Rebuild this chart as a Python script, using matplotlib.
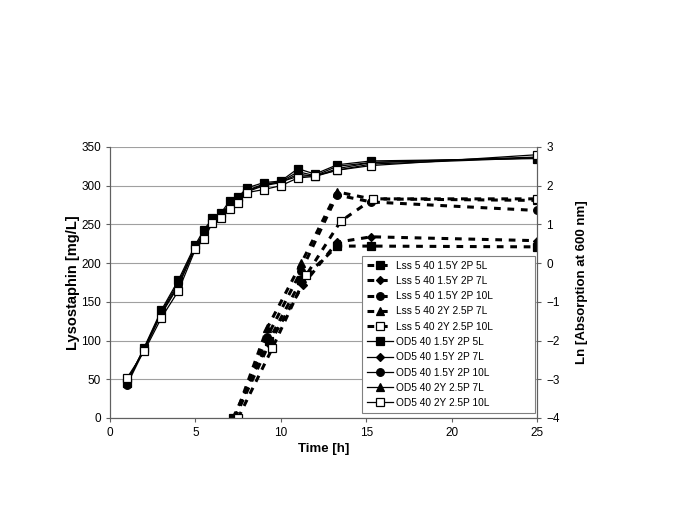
import matplotlib
matplotlib.use("Agg")
import matplotlib.pyplot as plt

plt.rcParams["font.family"] = ["Liberation Sans", "DejaVu Sans"]

# ---------------------------------------------------------------------------
# Data: lysostaphin titer (left axis, mg/L)
# ---------------------------------------------------------------------------

lss_names = [
    "Lss 5 40 1.5Y 2P 5L",
    "Lss 5 40 1.5Y 2P 7L",
    "Lss 5 40 1.5Y 2P 10L",
    "Lss 5 40 2Y 2.5P 7L",
    "Lss 5 40 2Y 2.5P 10L",
]
lss_t_5l    = [7.2, 9.3, 11.2, 13.3, 15.3, 25]
lss_5l      = [0, 100, 178, 222, 222, 221]
lss_t_7l    = [7.3, 9.3, 11.3, 13.3, 15.3, 25]
lss_7l      = [0, 95, 172, 227, 234, 229]
lss_t_10l   = [7.3, 9.2, 11.2, 13.3, 15.3, 25]
lss_10l     = [0, 105, 190, 288, 279, 268]
lss_t_2y7l  = [7.3, 9.2, 11.2, 13.3, 15.3, 25]
lss_2y7l    = [0, 116, 200, 292, 283, 281]
lss_t_2y10l = [7.5, 9.5, 11.5, 13.5, 15.4, 25]
lss_2y10l   = [0, 90, 185, 254, 283, 283]

# ---------------------------------------------------------------------------
# Data: ln(OD600) (right axis)
# ---------------------------------------------------------------------------

od_names = [
    "OD5 40 1.5Y 2P 5L",
    "OD5 40 1.5Y 2P 7L",
    "OD5 40 1.5Y 2P 10L",
    "OD5 40 2Y 2.5P 7L",
    "OD5 40 2Y 2.5P 10L",
]
od_t = [1, 2, 3, 4, 5, 5.5, 6, 6.5, 7, 7.5, 8, 9, 10, 11, 12, 13.3, 15.3, 25]
od_5l    = [-3.10, -2.18, -1.22, -0.44, 0.48, 0.86, 1.16, 1.30, 1.60, 1.70,
            1.94, 2.08, 2.12, 2.44, 2.30, 2.54, 2.64, 2.70]
od_7l    = [-3.06, -2.20, -1.26, -0.50, 0.44, 0.76, 1.10, 1.24, 1.50, 1.64,
            1.88, 2.04, 2.10, 2.36, 2.26, 2.50, 2.60, 2.72]
od_10l   = [-3.14, -2.24, -1.30, -0.56, 0.40, 0.72, 1.04, 1.20, 1.44, 1.60,
            1.84, 2.00, 2.08, 2.30, 2.24, 2.44, 2.60, 2.74]
od_2y7l  = [-3.04, -2.22, -1.32, -0.60, 0.42, 0.80, 1.12, 1.26, 1.52, 1.64,
            1.86, 2.02, 2.10, 2.24, 2.26, 2.40, 2.56, 2.72]
od_2y10l = [-2.96, -2.28, -1.42, -0.72, 0.36, 0.62, 1.04, 1.16, 1.40, 1.56,
            1.82, 1.90, 2.00, 2.20, 2.24, 2.40, 2.52, 2.80]

markers = ["s", "D", "o", "^", "s"]
msizes  = [5.5, 4.2, 5.5, 5.5, 5.5]
faces   = ["black", "black", "black", "black", "white"]

# ---------------------------------------------------------------------------
# Chart
# ---------------------------------------------------------------------------

fig = plt.figure(figsize=(6.85, 5.13), dpi=100)
ax1 = fig.add_axes([0.1606, 0.1852, 0.6234, 0.5283])
ax2 = ax1.twinx()

lss_t = [lss_t_5l, lss_t_7l, lss_t_10l, lss_t_2y7l, lss_t_2y10l]
lss_v = [lss_5l, lss_7l, lss_10l, lss_2y7l, lss_2y10l]
od_v  = [od_5l, od_7l, od_10l, od_2y7l, od_2y10l]

handles = []
for t, v, m, ms, fc, name in zip(lss_t, lss_v, markers, msizes, faces, lss_names):
    h, = ax1.plot(t, v, linestyle=(0, (2.2, 2.2)), lw=2.2, color="black",
                  marker=m, markersize=ms,
                  markerfacecolor=fc, markeredgecolor="black",
                  markeredgewidth=0.9, label=name)
    handles.append(h)

for v, m, ms, fc, name in zip(od_v, markers, msizes, faces, od_names):
    h, = ax2.plot(od_t, v, linestyle="-", lw=0.9, color="black",
                  marker=m, markersize=ms,
                  markerfacecolor=fc, markeredgecolor="black",
                  markeredgewidth=0.9, label=name)
    handles.append(h)

ax1.set_xlim(0, 25)
ax1.set_ylim(0, 350)
ax2.set_ylim(-4, 3)
ax1.set_xticks(range(0, 26, 5))
ax1.set_yticks(range(0, 351, 50))
ax2.set_yticks(range(-4, 4))

ax1.yaxis.grid(True, color="#a0a0a0", lw=0.8)
ax1.set_axisbelow(True)

for ax in (ax1, ax2):
    ax.spines["top"].set_visible(False)
    ax.spines["left"].set_color("#606060")
    ax.spines["right"].set_color("#606060")
    ax.spines["bottom"].set_color("#606060")
    ax.tick_params(labelsize=8.5, length=3, color="#606060", width=0.8)

ax1.set_xlabel("Time [h]", fontsize=9.5, fontweight="bold", labelpad=3)
ax1.set_ylabel("Lysostaphin [mg/L]", fontsize=10.5, fontweight="bold", labelpad=1)
ax2.set_ylabel("Ln [Absorption at 600 nm]", fontsize=9.5, fontweight="bold", labelpad=12)

leg = ax2.legend(handles=handles, loc="lower left",
                 bbox_to_anchor=(0.59, 0.018, 0.405, 0.58), mode="expand",
                 borderaxespad=0,
                 fontsize=7.3, handlelength=2.6, handletextpad=0.3,
                 labelspacing=0.52, borderpad=0.5, fancybox=False,
                 frameon=True, framealpha=1)
leg.get_frame().set_edgecolor("#808080")
leg.get_frame().set_linewidth(0.8)

fig.savefig("out.png", dpi=100)
